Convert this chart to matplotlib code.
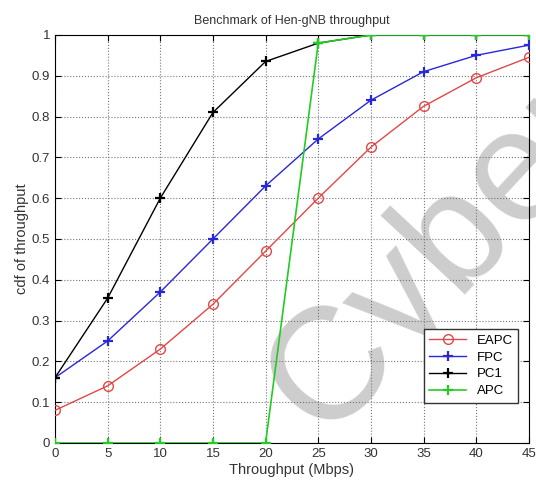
import numpy as np
import matplotlib.pyplot as plt

plt.rcParams['font.family'] = ['Liberation Sans', 'DejaVu Sans']

x = [0, 5, 10, 15, 20, 25, 30, 35, 40, 45]
eapc = [0.08, 0.14, 0.23, 0.34, 0.47, 0.60, 0.725, 0.825, 0.895, 0.945]
fpc = [0.16, 0.25, 0.37, 0.50, 0.63, 0.745, 0.84, 0.91, 0.95, 0.975]
pc1 = [0.16, 0.355, 0.60, 0.81, 0.935, 0.98, 1.0, 1.0, 1.0, 1.0]
apc = [0.0, 0.0, 0.0, 0.0, 0.0, 0.98, 1.0, 1.0, 1.0, 1.0]

fig = plt.figure(figsize=(5.36, 4.91), dpi=100)
ax = fig.add_axes([0.1026, 0.0978, 0.884, 0.831])

ax.plot(x, eapc, color='#e04848', marker='o', markerfacecolor='none',
        markersize=7, linewidth=1, label='EAPC', zorder=3)
ax.plot(x, fpc, color='#2828d8', marker='+', markersize=6.5, mew=1.6,
        linewidth=1, label='FPC', zorder=3)
ax.plot(x, pc1, color='black', marker='+', markersize=6.5, mew=1.6,
        linewidth=1, label='PC1', zorder=3)
ax.plot(x, apc, color='#22cc22', marker='+', markersize=6.5, mew=1.6,
        linewidth=1.2, label='APC', zorder=3)

ax.set_xlim(0, 45)
ax.set_ylim(0, 1)
ax.set_xticks(np.arange(0, 46, 5))
ax.set_yticks(np.arange(0, 1.01, 0.1))
ax.set_yticklabels(['0', '0.1', '0.2', '0.3', '0.4', '0.5', '0.6', '0.7', '0.8', '0.9', '1'])
ax.tick_params(direction='in', labelsize=9.5, length=4, top=True, right=True,
               labelcolor='#333333')
ax.grid(True, linestyle=':', color='#777777', linewidth=0.8)

ax.set_xlabel('Throughput (Mbps)', fontsize=10.5, labelpad=2, color='#333333')
ax.set_ylabel('cdf of throughput', fontsize=10.5, labelpad=2, color='#333333')
ax.set_title('Benchmark of Hen-gNB throughput', fontsize=9, pad=8, color='#333333')

leg = ax.legend(loc='lower right', bbox_to_anchor=(0.9916, 0.083), fontsize=9.5,
                fancybox=False, edgecolor='#333333', framealpha=1,
                handlelength=2.8, borderpad=0.4, labelspacing=0.35)
leg.get_frame().set_linewidth(1)
leg.set_zorder(5)

# watermark behind the curves and grid (runs off the right edge like the original)
ax.text(0.818, 0.482, 'Cyber', transform=fig.transFigure, fontsize=115,
        color='#cdcdcd', rotation=47, rotation_mode='anchor',
        ha='center', va='center', zorder=1, clip_on=False)

fig.savefig('out.png', dpi=100)
